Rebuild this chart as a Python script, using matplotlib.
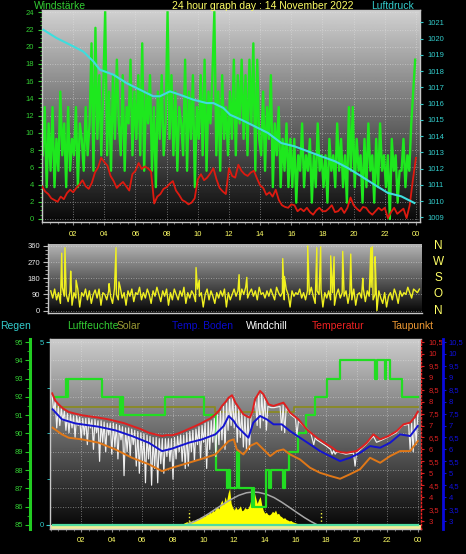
import numpy as np
import matplotlib.pyplot as plt
from matplotlib.ticker import MultipleLocator, FixedLocator, FuncFormatter
import matplotlib.transforms as mtransforms

plt.rcParams['font.family'] = ['Liberation Sans', 'DejaVu Sans']
plt.rcParams['font.size'] = 5.5

# ---------------- data ----------------
hour_ticks = [2, 4, 6, 8, 10, 12, 14, 16, 18, 20, 22, 24]
hour_labels = ['02', '04', '06', '08', '10', '12', '14', '16', '18', '20', '22', '00']

# top panel: gusts (km/h, 8 samples per hour), average wind, pressure
gust_kmh = [
    7.4, 13.0, 3.7, 11.1, 5.6, 13.0, 3.7, 9.3,
    5.6, 14.8, 7.4, 11.1, 3.7, 13.0, 5.6, 9.3,
    7.4, 13.0, 3.7, 11.1, 9.3, 5.6, 13.0, 7.4,
    11.1, 20.4, 5.6, 22.2, 9.3, 16.7, 7.4, 14.8,
    24.1, 7.4, 14.8, 5.6, 16.7, 9.3, 18.5, 11.1,
    7.4, 16.7, 5.6, 13.0, 11.1, 18.5, 7.4, 14.8,
    9.3, 16.7, 7.4, 20.4, 5.6, 14.8, 11.1, 16.7,
    5.6, 13.0, 3.7, 14.8, 9.3, 16.7, 7.4, 11.1,
    24.1, 9.3, 16.7, 7.4, 14.8, 5.6, 13.0, 11.1,
    7.4, 18.5, 5.6, 14.8, 9.3, 16.7, 3.7, 13.0,
    9.3, 16.7, 7.4, 18.5, 5.6, 14.8, 11.1, 16.7,
    24.1, 7.4, 14.8, 5.6, 16.7, 9.3, 13.0, 7.4,
    14.8, 9.3, 18.5, 7.4, 16.7, 11.1, 18.5, 9.3,
    16.7, 7.4, 18.5, 11.1, 20.4, 5.6, 18.5, 9.3,
    7.4, 14.8, 5.6, 13.0, 9.3, 16.7, 3.7, 11.1,
    7.4, 13.0, 3.7, 9.3, 5.6, 11.1, 3.7, 9.3,
    3.7, 9.3, 1.9, 7.4, 5.6, 11.1, 3.7, 7.4,
    5.6, 9.3, 1.9, 7.4, 3.7, 11.1, 5.6, 7.4,
    3.7, 7.4, 1.9, 9.3, 5.6, 7.4, 3.7, 11.1,
    5.6, 9.3, 3.7, 7.4, 1.9, 13.0, 5.6, 13.0,
    3.7, 9.3, 5.6, 7.4, 1.9, 9.3, 3.7, 11.1,
    5.6, 7.4, 1.9, 9.3, 3.7, 11.1, 5.6, 7.4,
    3.7, 7.4, 0.0, 9.3, 5.6, 7.4, 1.9, 5.6,
    5.6, 9.3, 3.7, 7.4, 5.6, 11.1, 14.8, 18.5,
]
gust_hours = np.linspace(0.05, 23.95, len(gust_kmh))

avg_wind_kmh = [
    3.8, 3.2, 2.9, 2.4, 2.2, 2.0,
    2.6, 2.3, 3.0, 3.4, 3.1,
    3.6, 4.0, 4.5, 3.8, 3.5,
    4.2, 5.4, 6.0, 7.1, 6.6,
    6.2, 5.0, 4.4, 3.6, 4.0,
    4.3, 3.8, 3.3, 5.2, 5.6,
    6.5, 5.8, 6.1, 5.9, 5.5,
    1.8, 2.6, 2.9, 3.5, 3.7,
    4.1, 4.4, 3.3, 2.8, 2.2,
    2.0, 1.7, 1.9, 2.4, 4.6,
    5.2, 4.5, 4.8, 5.3, 5.9,
    4.6, 3.6, 3.2, 2.9, 5.9,
    5.0, 4.8, 6.3, 5.6, 5.2,
    5.0, 5.4, 5.6, 4.7, 3.9,
    3.6, 2.8, 3.1, 2.6, 3.4,
    2.2, 1.6, 1.4, 1.3, 1.7,
    1.6, 0.9, 1.2, 0.9, 1.3,
    0.8, 0.5, 1.0, 1.3, 0.9,
    0.9, 1.2, 1.6, 0.8, 0.9,
    1.3, 0.7, 1.3, 2.5, 1.6,
    1.2, 0.9, 1.4, 1.3, 0.8,
    0.5, 0.9, 1.3, 1.0, 1.3,
    0.1, 0.8, 1.3, 0.6, 0.9,
    1.2, 0.1, 1.6, 4.5, 7.1,
]
avg_hours = np.linspace(0, 24, len(avg_wind_kmh))

pressure_hours = [0.09, 0.94, 2.01, 2.65, 3.29, 3.72, 4.58, 5.43, 6.29, 7.14, 7.57,
                  8.21, 8.86, 9.71, 10.57, 11.0, 11.64, 12.07, 12.8, 13.65, 14.5,
                  15.36, 16.2, 17.07, 17.93, 18.8, 19.64, 20.5, 21.35, 22.2, 23.06, 23.9]
pressure_hpa = [1020.54, 1020.03, 1019.52, 1019.2, 1018.6, 1018.08, 1017.78, 1017.26,
                1016.85, 1016.45, 1016.45, 1016.75, 1016.54, 1016.24, 1016.03, 1016.03,
                1015.73, 1015.31, 1015.0, 1014.6, 1014.19, 1013.57, 1013.37, 1013.06,
                1012.75, 1012.45, 1012.03, 1011.52, 1011.0, 1010.5, 1010.29, 1009.88]

# middle panel: wind direction (deg)
dir_base_deg = [
    110, 70, 120, 60, 100, 40, 130, 80,
    90, 50, 110, 30, 100, 70, 120, 20,
    100, 80, 120, 60, 110, 40, 90, 115,
    70, 120, 30, 100, 90, 60, 110, 80,
    40, 120, 90, 60, 130, 70, 100, 30,
    110, 80, 120, 50, 100, 90, 130, 60,
    100, 70, 120, 90, 40, 110, 80, 130,
    90, 50, 110, 80, 120, 30, 100, 60,
    120, 90, 60, 110, 80, 130, 40, 100,
    70, 110, 90, 50, 120, 80, 100, 20,
    90, 120, 60, 110, 80, 40, 100, 70,
    110, 80, 120, 20, 100, 60, 90, 120,
    80, 110, 60, 120, 90, 130, 70, 100,
    120, 80, 110, 60, 130, 90, 100, 70,
    110, 80, 120, 90, 60, 130, 100, 80,
    100, 60, 120, 90, 20, 110, 80, 100,
    90, 120, 70, 100, 60, 110, 90, 130,
    80, 40, 110, 90, 120, 20, 100, 70,
    110, 60, 100, 30, 90, 120, 70, 100,
    80, 110, 40, 100, 60, 120, 30, 90,
    100, 70, 120, 50, 110, 80, 130, 60,
    90, 0, 110, 70, 40, 100, 20, 80,
    100, 60, 120, 90, 40, 110, 80, 100,
    90, 130, 100, 70, 120, 110, 100, 120,
]
dir_base_hours = np.linspace(0.05, 23.95, len(dir_base_deg))
dir_spike_hours = [0.76, 0.97, 1.34, 1.69, 3.83, 4.28, 4.47, 9.47, 9.68, 12.26, 12.76,
                   15.09, 15.2, 16.71, 17.3, 17.55, 18.2, 18.42, 18.98, 19.5, 20.28,
                   20.8, 20.9, 21.08]
dir_spike_deg = [320, 350, 220, 170, 150, 350, 160, 240, 170, 200, 185,
                 290, 190, 360, 350, 355, 305, 300, 330, 315, 180,
                 350, 355, 300]
compass = ['N', 'W', 'S', 'O', 'N']
compass_deg = [360, 270, 180, 90, 0]

# bottom panel
hum_hours = [0.2, 1.0, 1.08, 1.16, 3.36, 4.55, 4.62, 4.7, 7.5, 10.0, 10.8, 11.5, 11.6,
             11.7, 12.2, 12.3, 13.15, 13.22, 13.3, 14.1, 14.3, 14.4, 15.2, 15.3, 15.6,
             16.2, 16.7, 17.3, 18.05, 18.9, 21.2, 21.35, 21.85, 21.95, 22.2, 22.95, 24.0]
hum_pct = [92, 93, 92, 93, 92, 91, 92, 91, 92, 91, 88, 87, 88,
           87, 89, 87, 86, 87, 86, 88, 87, 88, 87, 88, 89,
           90, 91, 92, 93, 94, 93, 94, 93, 94, 93, 92, 92]

olive_hours = [0.25, 10.75, 15.9, 24.0]
olive_pct = [91.45, 91.2, 91.45, 91.45]

rain_hours = [0.15, 24.0]
rain_mm = [0.0, 0.0]

solar_wm2 = [
    3, 6, 9, 5, 10, 14, 18, 15, 22, 20,
    27, 24, 30, 36, 32, 45, 40, 52, 48, 64,
    58, 70, 66, 80, 75, 95, 100, 88, 120, 137,
    110, 155, 130, 175, 200, 118, 95, 82, 100, 85,
    91, 105, 78, 82, 96, 88, 91, 110, 140, 164,
    182, 150, 118, 140, 155, 110, 80, 64, 70, 58,
    55, 62, 75, 68, 82, 60, 64, 50, 45, 36,
    40, 30, 27, 22, 25, 18, 15, 12, 9, 6,
    3, 0,
]
solar_hours = np.linspace(8.3, 16.4, len(solar_wm2))
sunmax_hours = [8.83, 9.3, 9.8, 10.3, 10.8, 11.3, 11.8, 12.3, 12.8, 13.2, 13.6, 14.1,
                14.6, 15.1, 15.6, 16.1, 16.6, 17.0, 17.45]
sunmax_wm2 = [0, 15, 35, 60, 88, 115, 140, 162, 176, 180, 178, 168,
              150, 125, 97, 68, 40, 20, 0]
sun_event_hours = [9.03, 17.66]
sun_event_wm2 = [80, 80]

temp_hours = [0.1, 0.3, 0.52, 0.8, 1.18, 1.6, 2.05, 2.6, 3.14, 3.7, 4.23, 4.8, 5.32, 5.9,
              6.41, 6.9, 7.28, 7.6, 7.93, 8.3, 8.59, 9.0, 9.46, 9.8, 10.12, 10.45, 10.77,
              11.0, 11.2, 11.45, 11.64, 11.86, 12.08, 12.3, 12.6, 12.85, 13.03, 13.2,
              13.36, 13.55, 13.69, 13.91, 14.24, 14.57, 14.89, 15.22, 15.45, 15.65, 16.2,
              16.74, 17.1, 17.4, 18.05, 18.4, 18.7, 19.0, 19.36, 20.0, 20.35, 20.67, 21.1,
              21.54, 22.09, 22.63, 23.07, 23.5, 23.8, 24.0]
temp_c = [8.35, 8.05, 7.89, 7.72, 7.57, 7.5, 7.43, 7.38, 7.33, 7.27, 7.19, 7.1, 6.98, 6.85,
          6.70, 6.62, 6.56, 6.6, 6.59, 6.66, 6.73, 6.85, 6.98, 7.08, 7.19, 7.3, 7.47,
          7.62, 7.82, 8.0, 8.17, 8.27, 7.96, 7.75, 7.47, 7.38, 7.33, 7.6,
          8.1, 8.3, 8.45, 8.31, 7.89, 7.82, 7.89, 7.96, 7.75, 7.54, 7.26,
          6.84, 6.65, 6.49, 6.21, 6.08, 5.93, 5.88, 5.86, 5.93, 6.1, 6.28, 6.63,
          6.42, 6.56, 6.77, 7.05, 7.12, 7.35, 7.58]

soil_hours = [0.13, 0.74, 1.61, 3.14, 4.23, 5.32, 6.41, 7.28, 7.93, 9.03, 9.9, 10.77, 11.31,
              11.64, 11.97, 12.17, 12.6, 12.93, 13.25, 13.69, 14.13, 14.57, 15.11, 15.65,
              16.3, 16.96, 17.61, 18.26, 18.92, 19.57, 20.23, 20.88, 21.54, 22.19, 22.84,
              23.5, 24.0]
soil_c = [7.68, 7.26, 7.09, 6.95, 6.80, 6.56, 6.28, 5.93, 6.03, 6.28, 6.42, 6.63, 6.98,
          7.40, 7.19, 6.98, 6.70, 6.49, 7.12, 7.40, 7.26, 7.05, 7.05, 6.77,
          6.49, 6.21, 5.93, 5.72, 5.51, 5.65, 5.86, 6.14, 6.07, 6.28, 6.63,
          6.56, 6.98]

dew_hours = [0.13, 0.74, 1.18, 2.05, 3.14, 4.23, 5.32, 6.41, 7.28, 7.93, 9.03, 10.12, 10.77,
             11.31, 11.64, 11.97, 12.17, 12.6, 13.03, 13.47, 13.91, 14.35, 14.79, 15.22,
             15.65, 16.3, 16.96, 17.61, 18.26, 18.92, 19.57, 20.23, 20.88, 21.54, 22.19,
             22.84, 23.5, 24.0]
dew_c = [6.91, 6.63, 6.49, 6.42, 6.28, 6.00, 5.65, 5.38, 5.09, 5.23, 5.44, 5.65, 5.79,
         6.14, 6.35, 6.42, 6.00, 5.79, 6.14, 6.28, 6.00, 5.72, 5.93, 6.00,
         5.79, 5.58, 5.23, 5.02, 4.89, 4.77, 4.96, 5.17, 5.65, 5.44, 5.72,
         5.93, 5.93, 6.35]

# windchill: every 6 min until 12.6 h, then irregular readings
chill_early_c = [
    8.25, 7.6, 8.0, 6.9, 7.8, 7.0, 7.7, 7.2, 7.6, 6.8,
    7.5, 6.7, 7.45, 6.9, 7.4, 6.5, 7.4, 7.0, 7.35, 6.4,
    7.3, 6.6, 7.3, 6.2, 7.3, 6.9, 7.25, 6.0, 7.25, 6.7,
    7.2, 5.5, 7.2, 6.3, 7.15, 5.9, 7.1, 6.6, 7.1, 5.8,
    7.1, 6.1, 7.05, 5.6, 7.0, 6.4, 6.95, 4.9, 6.9, 5.9,
    6.9, 5.7, 6.85, 6.2, 6.8, 5.3, 6.75, 5.0, 6.7, 5.4,
    6.65, 4.6, 6.6, 5.6, 6.55, 4.5, 6.5, 5.2, 6.5, 4.6,
    6.45, 5.4, 6.45, 5.0, 6.45, 5.7, 6.45, 5.5, 6.45, 4.75,
    6.5, 5.6, 6.55, 5.9, 6.6, 5.5, 6.6, 5.2, 6.7, 5.3,
    6.75, 5.9, 6.8, 5.5, 6.85, 6.2, 6.95, 5.6, 7.0, 6.3,
    7.1, 5.2, 7.15, 6.0, 7.2, 6.3, 7.3, 5.7, 7.45, 6.2,
    7.6, 6.4, 7.8, 6.0, 7.95, 6.8, 8.1, 7.0, 8.2, 6.9,
    7.85, 6.3, 7.7, 6.5, 7.55, 6.1,
]
chill_early_hours = np.linspace(0.1, 12.6, len(chill_early_c))
chill_late_hours = [12.7, 12.8, 12.9, 13.0, 13.1, 13.4, 13.5, 13.6, 13.7, 13.8, 13.9, 14.0,
                    14.1, 14.2, 14.4, 14.6, 15.0, 15.1, 15.2, 15.3, 15.4, 15.7, 16.0, 16.1,
                    16.2, 16.5, 17.0, 17.2, 17.3, 17.4, 18.0, 18.3, 18.4, 18.5, 18.6, 18.7,
                    19.3, 19.8, 19.9, 20.0, 20.6, 21.1, 21.3, 21.5, 22.0, 22.6, 23.0, 23.4,
                    23.5, 23.6, 23.7, 23.8, 23.9, 24.0]
chill_late_c = [7.4, 6.0, 7.3, 6.0, 7.4, 8.0, 7.0, 8.35, 6.9, 8.3, 7.2, 8.2,
                6.8, 7.8, 7.75, 7.75, 7.8, 6.8, 7.85, 6.7, 7.75, 7.45, 7.3, 6.6,
                7.2, 7.0, 6.7, 6.2, 6.5, 6.4, 6.15, 6.0, 5.8, 5.95, 5.8, 5.9,
                5.8, 5.85, 5.3, 5.85, 6.2, 6.55, 6.3, 6.35, 6.5, 6.7, 7.0, 7.05,
                6.0, 7.1, 5.9, 7.3, 6.2, 7.5]

# ---------------- figure ----------------
FW, FH = 466, 554
fig = plt.figure(figsize=(FW / 100, FH / 100), dpi=100, facecolor='black')
DOT = (0, (1, 2))
FRAME = '#c8c8c8'


def px_axes(left, top, right, bottom):
    return fig.add_axes([left / FW, 1 - bottom / FH, (right - left) / FW, (bottom - top) / FH])


def shade(ax, top, bottom):
    g = np.linspace(top, bottom, 256).reshape(-1, 1)
    ax.imshow(g, cmap='gray', vmin=0, vmax=1, aspect='auto', extent=(0, 1, 0, 1),
              transform=ax.transAxes, zorder=0)


def spines(ax, keep, color=FRAME, lw=1.0):
    for name, sp in ax.spines.items():
        sp.set_visible(name in keep)
        sp.set_color(color)
        sp.set_linewidth(lw)


def hour_axis(ax, pad):
    ax.set_xticks(hour_ticks)
    ax.set_xticklabels(hour_labels)
    ax.xaxis.set_minor_locator(MultipleLocator(0.5))
    ax.tick_params(axis='x', which='both', colors='#8a8a8a', labelcolor='#ffff66',
                   labelsize=5.5, pad=pad)
    ax.tick_params(axis='x', which='major', length=2.5)
    ax.tick_params(axis='x', which='minor', length=1.5)


def comma(v, _):
    return f'{v:g}'.replace('.', ',')


# ---- top: wind speed + pressure ----
ax1 = px_axes(42, 10, 420, 222)
shade(ax1, 0.82, 0.03)
ax1.plot(gust_hours, gust_kmh, color='#1ee81e', lw=1.7, zorder=2)
ax1.plot(avg_hours, avg_wind_kmh, color='#dd1a10', lw=1.3, zorder=3)
ax1.set_xlim(0, 24.26)
ax1.set_ylim(-0.35, 24.27)
ax1.yaxis.set_major_locator(MultipleLocator(2))
ax1.yaxis.set_minor_locator(MultipleLocator(0.5))
ax1.tick_params(axis='y', which='both', colors='#33cc33', labelsize=5.5, pad=3)
ax1.tick_params(axis='y', which='major', length=3)
ax1.tick_params(axis='y', which='minor', length=1.5)
hour_axis(ax1, 4.3)
ax1.set_axisbelow(True)
ax1.grid(True, color='#e6e6e6', linestyle=DOT, linewidth=0.6, alpha=0.6)
spines(ax1, ('left', 'bottom', 'top', 'right'))

ax1p = ax1.twinx()
ax1p.plot(pressure_hours, pressure_hpa, color='#3ddede', lw=1.5)
ax1p.set_ylim(1008.71, 1021.76)
ax1p.set_yticks(range(1009, 1022))
ax1p.tick_params(axis='y', colors='#33cccc', length=2.5, labelsize=5.5, pad=3)
spines(ax1p, ())
ax1p.set_xlim(0, 24.26)

fig.text(34 / FW, 1 - 6 / FH, 'Windstärke', color='#33cc33', fontsize=7.5, va='center')
fig.text(172 / FW, 1 - 6 / FH, '24 hour graph day : 14 November 2022', color='#ffff66',
         fontsize=7.5, va='center')
fig.text(371 / FW, 1 - 6 / FH, 'Luftdruck', color='#33cccc', fontsize=7.5, va='center')

# ---- middle: wind direction ----
ax2 = px_axes(48, 244, 422, 313)
shade(ax2, 0.72, 0.02)
dir_hours = np.concatenate([dir_base_hours, dir_spike_hours])
dir_deg = np.concatenate([dir_base_deg, dir_spike_deg])
order = np.argsort(dir_hours)
ax2.plot(dir_hours[order], dir_deg[order], color='#f0f020', lw=1.0, zorder=2)
ax2.set_xlim(-0.13, 24.12)
ax2.set_ylim(-13.4, 371)
ax2.set_yticks([0, 90, 180, 270, 360])
ax2.yaxis.set_minor_locator(MultipleLocator(22.5))
ax2.set_xticks([])
ax2.tick_params(axis='y', which='both', colors='#b8b8b8', labelcolor='#e8e8e8',
                labelsize=5.5, pad=2)
ax2.tick_params(axis='y', which='major', length=3.5)
ax2.tick_params(axis='y', which='minor', length=2)
ax2.set_axisbelow(True)
ax2.grid(True, axis='y', color='#e6e6e6', linestyle=DOT, linewidth=0.6, alpha=0.6)
spines(ax2, ('left', 'bottom'))
blend2 = mtransforms.blended_transform_factory(ax2.transAxes, ax2.transData)
for letter, deg in zip(compass, compass_deg):
    ax2.text(1.043, deg, letter, transform=blend2, color='#ffff66', fontsize=8.5,
             ha='center', va='center')

# ---- bottom: humidity, solar, temperatures ----
fig.text(0, 1 - 326 / FH, 'Regen', color='#33cccc', fontsize=7.5, va='center')
fig.text(67 / FW, 1 - 326 / FH, 'Luftfeuchte', color='#33cc33', fontsize=7.5, va='center')
fig.text(117 / FW, 1 - 326 / FH, 'Solar', color='#999933', fontsize=7.5, va='center')
fig.text(172 / FW, 1 - 326 / FH, 'Temp. Boden', color='#0a0acc', fontsize=7.5, va='center')
fig.text(246 / FW, 1 - 326 / FH, 'Windchill', color='white', fontsize=7.5, va='center')
fig.text(312 / FW, 1 - 326 / FH, 'Temperatur', color='#ee2222', fontsize=7.5, va='center')
fig.text(392 / FW, 1 - 326 / FH, 'Taupunkt', color='#ee9933', fontsize=7.5, va='center')

XLIM3 = (-0.04, 24.21)
HUM_LIM = (84.78, 95.164)
TEMP_LIM = (2.665, 10.626)

ax3 = px_axes(50, 339, 421, 529)
shade(ax3, 0.80, 0.02)
ax3.set_ylim(*HUM_LIM)
ax3.yaxis.set_major_locator(MultipleLocator(1))
ax3.yaxis.set_minor_locator(MultipleLocator(0.5))
ax3.tick_params(axis='y', which='both', colors='#22cc22', labelcolor='#33cc33',
                labelsize=5.5, pad=1.5)
ax3.tick_params(axis='y', which='major', length=3.5)
ax3.tick_params(axis='y', which='minor', length=2)
hour_axis(ax3, 3.6)
ax3.set_axisbelow(True)
ax3.grid(True, color='#e6e6e6', linestyle=DOT, linewidth=0.6, alpha=0.6)
spines(ax3, ('left', 'bottom', 'top'))
ax3.spines['left'].set_position(('outward', 14.4))
ax3.spines['left'].set_color('#22cc22')
ax3.spines['left'].set_linewidth(2.2)
ax3.axhspan(HUM_LIM[0], 85, color='#eeee99', lw=0, zorder=1)

ax3s = ax3.twinx()
spines(ax3s, ())
ax3s.set_yticks([])
ax3s.fill_between(solar_hours, 0, solar_wm2, color='#ffff00', lw=0)
ax3s.plot(sunmax_hours, sunmax_wm2, color='#a8a8a8', lw=1.1)
ax3s.vlines(sun_event_hours, 0, sun_event_wm2, colors='#ffff44', linestyles=':', lw=1)
ax3s.set_ylim(-21.9, 1016.4)

ax3h = ax3.twinx()
spines(ax3h, ())
ax3h.set_yticks([])
ax3h.step(olive_hours, olive_pct, where='post', color='#8a8a22', lw=1.3)
ax3h.step(hum_hours, hum_pct, where='post', color='#22dd22', lw=1.6)
ax3h.set_ylim(*HUM_LIM)

ax3t = ax3.twinx()
ax3t.plot(np.concatenate([chill_early_hours, chill_late_hours]),
          np.concatenate([chill_early_c, chill_late_c]), color='#f0f0f0', lw=0.85)
ax3t.plot(dew_hours, dew_c, color='#e07818', lw=1.4)
ax3t.plot(soil_hours, soil_c, color='#1414d0', lw=1.4)
ax3t.plot(temp_hours, temp_c, color='#e02020', lw=1.4)
ax3t.set_ylim(*TEMP_LIM)
ax3t.yaxis.set_major_locator(MultipleLocator(0.5))
ax3t.yaxis.set_major_formatter(FuncFormatter(comma))
ax3t.tick_params(axis='y', colors='#dd2222', length=2.5, labelsize=5.5, pad=3)
spines(ax3t, ('right',), color='#ee2222')
ax3t.spines['right'].set_linestyle(':')

ax3b = ax3.twinx()
ax3b.set_ylim(*TEMP_LIM)
ax3b.yaxis.set_major_locator(MultipleLocator(0.5))
ax3b.yaxis.set_major_formatter(FuncFormatter(comma))
ax3b.tick_params(axis='y', colors='#1010dd', length=2.5, labelsize=5.5, pad=1.5)
spines(ax3b, ('right',), color='#0a0add', lw=2)
ax3b.spines['right'].set_position(('outward', 15.8))

ax3r = ax3.twinx()
ax3r.yaxis.tick_left()
ax3r.plot(rain_hours, rain_mm, color='#50dca0', lw=1.6)
ax3r.set_ylim(-0.11, 5.082)
ax3r.yaxis.set_major_locator(FixedLocator([0, 5]))
ax3r.yaxis.set_minor_locator(FixedLocator([1.25, 2.5, 3.75]))
ax3r.tick_params(axis='y', which='both', colors='#33cccc', labelsize=5.5, pad=1.5)
ax3r.tick_params(axis='y', which='major', length=3)
ax3r.tick_params(axis='y', which='minor', length=2)
spines(ax3r, ('left',))

for a in (ax3, ax3s, ax3h, ax3t, ax3b, ax3r):
    a.set_xlim(*XLIM3)

fig.savefig('out.png', dpi=100, facecolor='black')
